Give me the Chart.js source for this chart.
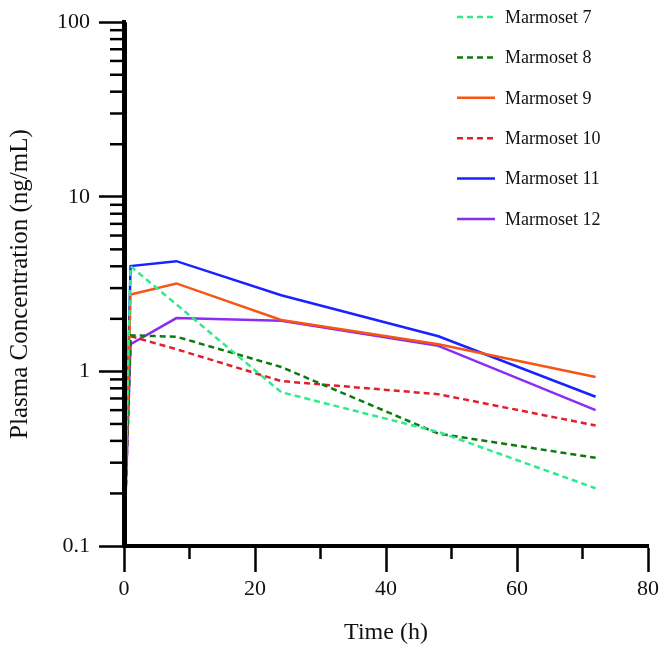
<!DOCTYPE html>
<html>
<head>
<meta charset="utf-8">
<script src="https://cdn.jsdelivr.net/npm/chart.js@4.4.0/dist/chart.umd.min.js"></script>
<style>
  html, body { margin: 0; padding: 0; background: #fff; }
  #wrap { width: 666px; height: 655px; position: relative; }
</style>
</head>
<body>
<div id="wrap"><canvas id="pkChart"></canvas></div>
<script>
// Sample times (h)
const times = [0, 1, 8, 24, 48, 72];

// Plasma concentration (ng/mL); pre-dose (t=0) sits on the axis floor
const marmoset7  = [0.1, 4.00, 2.42, 0.76, 0.45, 0.214];
const marmoset8  = [0.1, 1.61, 1.58, 1.06, 0.44, 0.32];
const marmoset9  = [0.1, 2.76, 3.19, 1.97, 1.43, 0.93];
const marmoset10 = [0.1, 1.59, 1.34, 0.88, 0.74, 0.49];
const marmoset11 = [0.1, 4.01, 4.28, 2.73, 1.59, 0.716];
const marmoset12 = [0.1, 1.43, 2.02, 1.95, 1.40, 0.60];

const seriesNames = ["Marmoset 7", "Marmoset 8", "Marmoset 9", "Marmoset 10", "Marmoset 11", "Marmoset 12"];

// Axis ticks
const yTickValues = [0.1, 1, 10, 100];
const xTickValues = [0, 20, 40, 60, 80];
const xMinorTicks = [10, 30, 50, 70];

const serif = "'Liberation Serif', 'Times New Roman', serif";

function makeSet(label, values, color, dashed) {
    return {
        label: label,
        data: times.map((t, i) => ({ x: t, y: values[i] })),
        borderColor: color,
        backgroundColor: color,
        borderWidth: 2.5,
        borderDash: dashed ? [6, 4] : [],
        pointRadius: 0,
        tension: 0,
        fill: false
    };
}

// Minor ticks, axis line over data, and the legend
const axisExtras = {
    id: 'axisExtras',
    afterDatasetsDraw(chart) {
        const ctx = chart.ctx;
        const area = chart.chartArea;
        const xs = chart.scales.x;
        const ys = chart.scales.y;
        ctx.save();
        ctx.strokeStyle = '#000';
        ctx.setLineDash([]);
        // redraw y axis line so it covers the start of the curves
        ctx.lineWidth = 5;
        ctx.beginPath();
        ctx.moveTo(area.left + 0.5, area.top);
        ctx.lineTo(area.left + 0.5, area.bottom + 2);
        ctx.stroke();
        // y minor ticks
        ctx.lineWidth = 2.5;
        yTickValues.slice(0, -1).forEach(dec => {
            for (let k = 2; k <= 9; k++) {
                const py = ys.getPixelForValue(dec * k);
                ctx.beginPath();
                ctx.moveTo(area.left - 14, py);
                ctx.lineTo(area.left, py);
                ctx.stroke();
            }
        });
        // x minor ticks
        xMinorTicks.forEach(v => {
            const px = xs.getPixelForValue(v);
            ctx.beginPath();
            ctx.moveTo(px, area.bottom);
            ctx.lineTo(px, area.bottom + 13);
            ctx.stroke();
        });
        // legend
        ctx.font = '18px ' + serif;
        ctx.textBaseline = 'middle';
        ctx.textAlign = 'left';
        chart.data.datasets.forEach((ds, i) => {
            const ly = 17 + i * 40.4;
            ctx.strokeStyle = ds.borderColor;
            ctx.lineWidth = 2.5;
            ctx.setLineDash(ds.borderDash);
            ctx.beginPath();
            ctx.moveTo(457, ly);
            ctx.lineTo(495, ly);
            ctx.stroke();
            ctx.fillStyle = '#111';
            ctx.fillText(ds.label, 505, ly + 1);
        });
        ctx.restore();
    }
};

function buildChart() {
    const ctx = document.getElementById('pkChart').getContext('2d');
    new Chart(ctx, {
        type: 'line',
        data: {
            datasets: [
                makeSet(seriesNames[0], marmoset7, '#2fea8c', true),
                makeSet(seriesNames[1], marmoset8, '#0d7a0d', true),
                makeSet(seriesNames[2], marmoset9, '#f75514', false),
                makeSet(seriesNames[3], marmoset10, '#e0202c', true),
                makeSet(seriesNames[4], marmoset11, '#1a22ff', false),
                makeSet(seriesNames[5], marmoset12, '#8a2cf2', false)
            ]
        },
        options: {
            responsive: true,
            maintainAspectRatio: false,
            animation: false,
            layout: { padding: { top: 22, right: 18, left: 0, bottom: 0 } },
            plugins: {
                legend: { display: false },
                tooltip: { enabled: false }
            },
            scales: {
                x: {
                    type: 'linear',
                    min: 0,
                    max: 80,
                    afterBuildTicks: s => { s.ticks = xTickValues.map(v => ({ value: v })); },
                    afterFit: s => { s.height = 109; },
                    grid: { drawOnChartArea: false, tickLength: 26, tickWidth: 2.5, tickColor: '#000' },
                    border: { display: true, color: '#000', width: 4 },
                    ticks: { color: '#111', font: { family: serif, size: 22 }, padding: 4, maxRotation: 0 },
                    title: { display: true, text: 'Time (h)', color: '#111', font: { family: serif, size: 24 }, padding: { top: 0, bottom: 8 } }
                },
                y: {
                    type: 'logarithmic',
                    min: 0.1,
                    max: 100,
                    afterBuildTicks: s => { s.ticks = yTickValues.map(v => ({ value: v })); },
                    afterFit: s => { s.width = 124; },
                    grid: { drawOnChartArea: false, tickLength: 25, tickWidth: 2.5, tickColor: '#000' },
                    border: { display: true, color: '#000', width: 4 },
                    ticks: { color: '#111', font: { family: serif, size: 22 }, padding: 9, callback: v => String(v) },
                    title: { display: true, text: 'Plasma Concentration (ng/mL)', color: '#111', font: { family: serif, size: 25 }, padding: { top: 5, bottom: 0 } }
                }
            }
        },
        plugins: [axisExtras]
    });
}

buildChart();
</script>
</body>
</html>
